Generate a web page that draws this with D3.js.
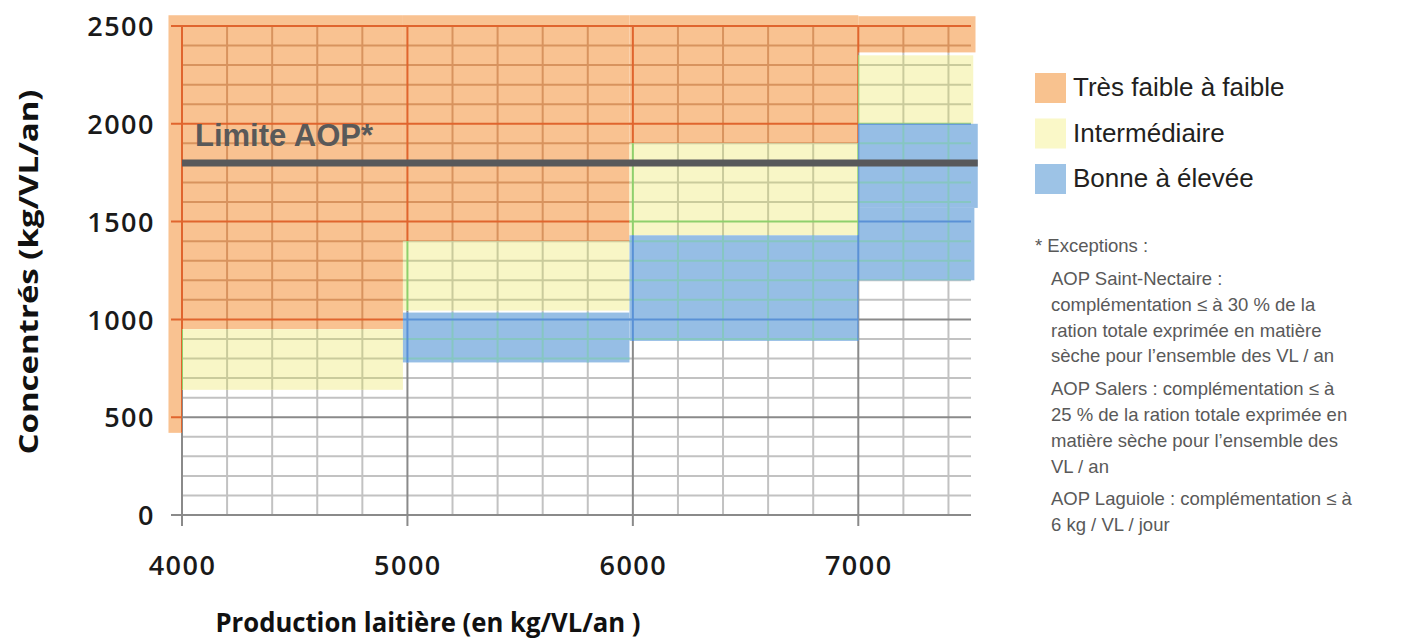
<!DOCTYPE html>
<meta charset="utf-8">
<style>
  body { margin: 0; background: #fff; }
  text { font-family: "Liberation Sans", Arial, sans-serif; }
  .tick text, .title { font-family: "Open Sans", sans-serif; }
</style>
<svg width="1415" height="642"></svg>
<script src="https://d3js.org/d3.v7.min.js"></script>
<script>

// axis ticks
var xTicks = [4000, 5000, 6000, 7000],
    yTicks = [0, 500, 1000, 1500, 2000, 2500];

// zones, each [x0, x1, y0, y1] in kg/VL/an
var faibleZones = [
  [3940, 4000, 420, 2555],
  [4000, 4980, 950, 2555],
  [4980, 5985, 1400, 2555],
  [5985, 7000, 1900, 2555],
  [7000, 7520, 2365, 2550]
];
var intermZones = [
  [4000, 4980, 640, 950],
  [4980, 5985, 1045, 1400],
  [5985, 7000, 1430, 1900],
  [7000, 7510, 2000, 2350]
];
var bonneZones = [
  [4980, 5985, 780, 1035],
  [5985, 7000, 890, 1430],
  [7000, 7530, 1570, 2000],
  [7000, 7515, 1200, 1570]
];

var limiteAOP = 1800;

var categories = ["Très faible à faible", "Intermédiaire", "Bonne à élevée"],
    legendColors = ["#f8c28f", "#faf8c8", "#9dc3e6"];

var exceptions = [
  ["* Exceptions :"],
  ["AOP Saint-Nectaire :", "complémentation ≤ à 30 % de la", "ration totale exprimée en matière", "sèche pour l’ensemble des VL / an"],
  ["AOP Salers : complémentation ≤ à", "25 % de la ration totale exprimée en", "matière sèche pour l’ensemble des", "VL / an"],
  ["AOP Laguiole : complémentation ≤ à", "6 kg / VL / jour"]
];

var svg = d3.select("svg"),
    defs = svg.append("defs");

var x = d3.scaleLinear().domain([4000, 7500]).range([182, 971]),
    y = d3.scaleLinear().domain([0, 2500]).range([515, 26]);

var zones = [
  {id: "faible", data: faibleZones, fill: "#f9c291", minor: "#d8935e", major: "#e0652e"},
  {id: "interm", data: intermZones, fill: "#f8f6c6", minor: "#cacb9c", major: "#8fd06c"},
  {id: "bonne", data: bonneZones, fill: "#96bee5", minor: "#86c6c2", major: "#5a91d6"}
];

function drawGrid(g, minor, major) {
  var minorX = d3.range(4000, 7500, 200).filter(function(d) { return d % 1000; }),
      minorY = d3.range(100, 2500, 100).filter(function(d) { return d % 500; });

  g.selectAll(".hminor").data(minorY).enter().append("line")
      .attr("x1", x(4000)).attr("x2", x(7500))
      .attr("y1", function(d) { return y(d); })
      .attr("y2", function(d) { return y(d); })
      .attr("stroke", minor).attr("stroke-width", 2);

  g.selectAll(".vminor").data(minorX).enter().append("line")
      .attr("x1", function(d) { return x(d); })
      .attr("x2", function(d) { return x(d); })
      .attr("y1", y(0)).attr("y2", y(2500))
      .attr("stroke", minor).attr("stroke-width", 2);

  g.selectAll(".hmajor").data(yTicks).enter().append("line")
      .attr("x1", x(4000) - 11).attr("x2", x(7500))
      .attr("y1", function(d) { return y(d); })
      .attr("y2", function(d) { return y(d); })
      .attr("stroke", major).attr("stroke-width", 2);

  g.selectAll(".vmajor").data(xTicks).enter().append("line")
      .attr("x1", function(d) { return x(d); })
      .attr("x2", function(d) { return x(d); })
      .attr("y1", y(0) + 11).attr("y2", y(2500))
      .attr("stroke", major).attr("stroke-width", 2);
}

// plain grid underneath
drawGrid(svg.append("g"), "#c2c2c2", "#8a8a8a");

// coloured zones
zones.forEach(function(z) {
  defs.append("clipPath").attr("id", "clip-" + z.id)
    .selectAll("rect").data(z.data).enter().append("rect")
      .attr("x", function(d) { return x(d[0]); })
      .attr("y", function(d) { return y(d[3]); })
      .attr("width", function(d) { return x(d[1]) - x(d[0]); })
      .attr("height", function(d) { return y(d[2]) - y(d[3]); });

  svg.append("g").selectAll("rect").data(z.data).enter().append("rect")
      .attr("x", function(d) { return x(d[0]); })
      .attr("y", function(d) { return y(d[3]); })
      .attr("width", function(d) { return x(d[1]) - x(d[0]); })
      .attr("height", function(d) { return y(d[2]) - y(d[3]); })
      .attr("fill", z.fill);
});

// grid tinted inside each zone
zones.forEach(function(z) {
  drawGrid(svg.append("g").attr("clip-path", "url(#clip-" + z.id + ")"), z.minor, z.major);
});

// limite AOP
svg.append("line")
    .attr("x1", x(4000)).attr("x2", x(7530))
    .attr("y1", y(limiteAOP)).attr("y2", y(limiteAOP))
    .attr("stroke", "#58595b").attr("stroke-width", 7);

svg.append("text")
    .attr("x", 195).attr("y", y(limiteAOP) - 17)
    .attr("font-size", 31).attr("font-weight", "bold")
    .attr("fill", "#595959")
    .text("Limite AOP*");

// axes labels
var yAxis = svg.append("g")
    .attr("transform", "translate(" + x(4000) + ",0)")
    .call(d3.axisLeft(y).tickValues(yTicks).tickSize(0).tickPadding(27).tickFormat(d3.format("d")));

var xAxis = svg.append("g")
    .attr("transform", "translate(0," + y(0) + ")")
    .call(d3.axisBottom(x).tickValues(xTicks).tickSize(0).tickPadding(41).tickFormat(d3.format("d")));

[yAxis, xAxis].forEach(function(a) {
  a.select(".domain").remove();
  a.selectAll("text")
      .attr("font-size", 27)
      .attr("font-weight", 600)
      .attr("letter-spacing", 1.5)
      .attr("fill", "#1a1a1a");
});
yAxis.selectAll("text").attr("dy", "0.36em");

svg.append("text")
    .attr("class", "title")
    .attr("transform", "translate(38,272) rotate(-90)")
    .attr("text-anchor", "middle")
    .attr("font-size", 27).attr("font-weight", "bold")
    .attr("fill", "#111")
    .attr("textLength", 365).attr("lengthAdjust", "spacingAndGlyphs")
    .text("Concentrés (kg/VL/an)");

svg.append("text")
    .attr("class", "title")
    .attr("x", 428).attr("y", 632)
    .attr("text-anchor", "middle")
    .attr("font-size", 26).attr("font-weight", "bold")
    .attr("fill", "#111")
    .attr("textLength", 425).attr("lengthAdjust", "spacingAndGlyphs")
    .text("Production laitière (en kg/VL/an )");

// legend
var legend = svg.append("g").selectAll("g")
    .data(categories).enter().append("g")
    .attr("transform", function(d, i) { return "translate(1035," + (73 + i * 45.5) + ")"; });

legend.append("rect")
    .attr("width", 31).attr("height", 30)
    .attr("fill", function(d, i) { return legendColors[i]; });

legend.append("text")
    .attr("x", 38).attr("y", 23)
    .attr("font-size", 26)
    .attr("fill", "#231f20")
    .text(function(d) { return d; });

// exceptions note
var note = svg.append("text").attr("font-size", 18.5).attr("fill", "#595959"),
    lineY = 252;
exceptions.forEach(function(par, i) {
  if (i > 1) lineY += 7;
  par.forEach(function(line, j) {
    note.append("tspan")
        .attr("x", i === 0 ? 1035 : 1051)
        .attr("y", lineY)
        .text(line);
    lineY += (i === 0 && j === 0) ? 33 : 25.8;
  });
});

</script>
